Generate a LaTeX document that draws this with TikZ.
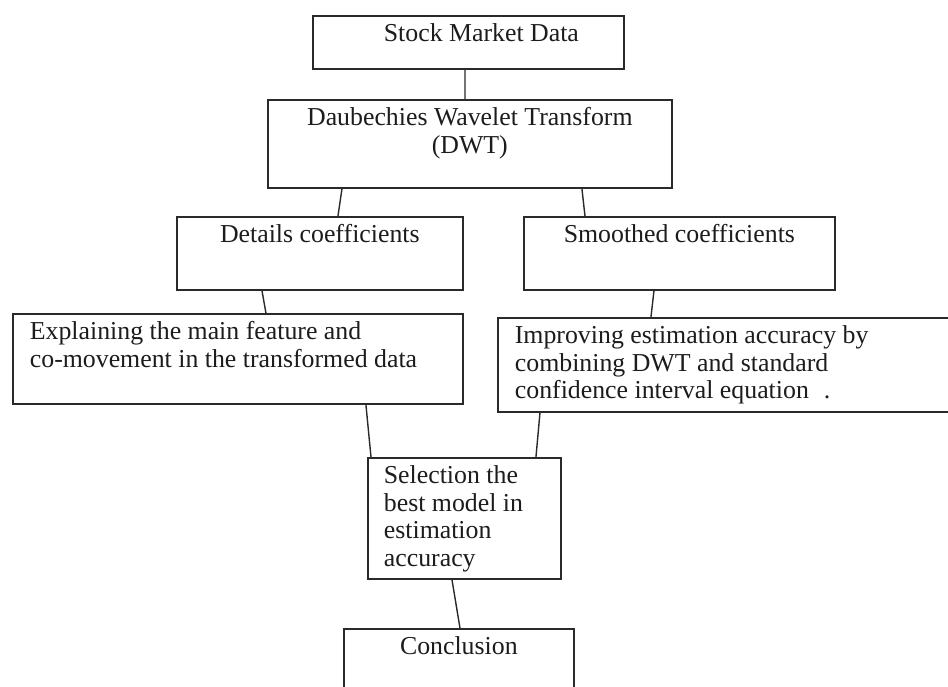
\documentclass[tikz,border=0pt]{standalone}
\usepackage{fontspec}
\setmainfont{Liberation Serif}
\usepackage{tikz}
\definecolor{dwtInk}{HTML}{1C1C1C}
\definecolor{dwtEdge}{HTML}{2A2A2A}
% box text: width, height, alignment, text
\newcommand{\boxtxt}[4]{\parbox[t][#2][t]{#1}{#3\rule{0pt}{0.52cm}#4}}

\begin{document}
\begin{tikzpicture}[x=0.02cm,y=-0.02cm,
  every node/.style={font=\fontsize{14.7pt}{15.65pt}\selectfont, text=dwtInk},
  blk/.style={draw=dwtEdge, line width=1pt, inner sep=0pt, anchor=north west},
  lnk/.style={draw=dwtEdge, line width=0.8pt}]
  \useasboundingbox (0,0) rectangle (948,687);
  % top of the chart
  \node[blk] (stock) at (312,15) {\boxtxt{6.22cm}{1.06cm}{\raggedright\leftskip=1.42cm\relax}{Stock Market Data}};
  \node[blk] (dwt) at (267,99) {\boxtxt{8.08cm}{1.76cm}{\centering}{Daubechies Wavelet Transform\\(DWT)}};
  % the two branches
  \node[blk] (det) at (176,216) {\boxtxt{5.72cm}{1.46cm}{\centering}{Details coefficients}};
  \node[blk] (smo) at (523,216) {\boxtxt{6.22cm}{1.46cm}{\centering}{Smoothed coefficients}};
  \node[blk] (expl) at (12,313) {\boxtxt{9.00cm}{1.80cm}{\raggedright\leftskip=0.34cm\relax}{Explaining the main feature and\\co-movement in the transformed data}};
  \node[blk] (impr) at (497,317) {\boxtxt{9.10cm}{1.88cm}{\raggedright\leftskip=0.34cm\relax}{Improving estimation accuracy by\\combining DWT and standard\\confidence interval equation\hspace{0.3cm}.}};
  % bottom
  \node[blk] (sel) at (367,457) {\boxtxt{3.86cm}{2.42cm}{\raggedright\leftskip=0.32cm\relax}{Selection the\\best model in\\estimation\\accuracy}};
  \node[blk] (concl) at (343,628) {\boxtxt{4.60cm}{1.60cm}{\centering}{Conclusion}};

  \draw[lnk] ([xshift=3.06cm]stock.south west) -- ([xshift=3.96cm]dwt.north west);
  \draw[lnk] ([xshift=1.50cm]dwt.south west) -- ([xshift=3.24cm]det.north west);
  \draw[lnk] ([xshift=6.30cm]dwt.south west) -- ([xshift=1.24cm]smo.north west);
  \draw[lnk] ([xshift=1.72cm]det.south west) -- ([xshift=5.08cm]expl.north west);
  \draw[lnk] ([xshift=2.62cm]smo.south west) -- ([xshift=3.08cm]impr.north west);
  \draw[lnk] ([xshift=7.08cm]expl.south west) -- ([xshift=0.08cm]sel.north west);
  \draw[lnk] ([xshift=0.86cm]impr.south west) -- ([xshift=3.38cm]sel.north west);
  \draw[lnk] ([xshift=1.70cm]sel.south west) -- ([xshift=2.34cm]concl.north west);
\end{tikzpicture}
\end{document}
